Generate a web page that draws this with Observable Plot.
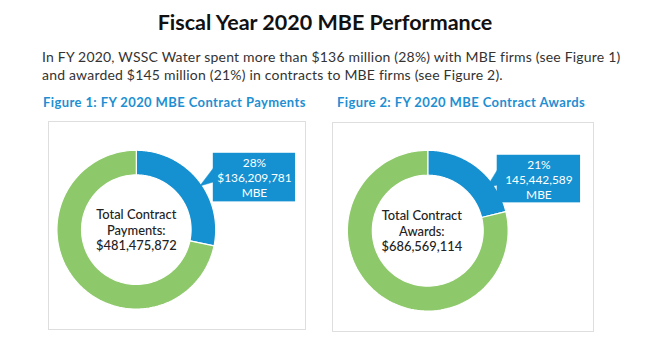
<!DOCTYPE html>
<html>
<head>
<meta charset="utf-8">
<script src="https://cdn.jsdelivr.net/npm/d3@7"></script>
<script src="https://cdn.jsdelivr.net/npm/@observablehq/plot@0.6"></script>
<style>
  html, body { margin: 0; padding: 0; background: #fff; }
  body { width: 650px; height: 363px; position: relative; overflow: hidden; font-family: Lato, "Open Sans", sans-serif; }
  #title { position: absolute; left: 0; width: 650px; top: 9px; text-align: center; font-weight: bold; font-size: 21.5px; color: #111; line-height: 26px; }
  #para { position: absolute; left: 42px; top: 48px; font-size: 14px; letter-spacing: 0.2px; line-height: 18px; color: #333; white-space: nowrap; }
  .ftitle { position: absolute; font-weight: bold; font-size: 13px; letter-spacing: 0.4px; color: #1e8fd2; white-space: nowrap; line-height: 16px; }
  .panel { position: absolute; box-sizing: border-box; border: 1px solid #dedede; background: #fff; }
  .panel svg { position: absolute; left: -1px; top: -1px; }
</style>
</head>
<body>
<div id="title"></div>
<div id="para"></div>
<div id="figs"></div>
<script>
// ---- data ----
const pageTitle = "Fiscal Year 2020 MBE Performance";
const paragraphLines = [
  "In FY 2020, WSSC Water spent more than $136 million (28%) with MBE firms (see Figure 1)",
  "and awarded $145 million (21%) in contracts to MBE firms (see Figure 2)."
];
const figureTitles = ["Figure 1: FY 2020 MBE Contract Payments", "Figure 2: FY 2020 MBE Contract Awards"];
const centerCaptions = ["Total Contract\nPayments:", "Total Contract\nAwards:"];
const totalAmounts = [481475872, 686569114];
const totalLabels = ["$481,475,872", "$686,569,114"];
const mbeAmounts = [136209781, 145442589];
const mbePercentLabels = ["28%", "21%"];
const mbeAmountLabels = ["$136,209,781", "145,442,589"];
const sliceNames = ["MBE", "Non-MBE"];

// ---- layout / style (not data) ----
const BLUE = "#1591d1", GREEN = "#8dc86a";
const layout = [
  {left: 48, top: 121, w: 258, h: 209, cx: 88.5, cy: 109, r: 80, textDx: 0, titleLeft: 43,
   callout: {x1: 0.97, x2: 2.006, y1: 0.35, y2: 0.962, base: [0.6, 0.775], baseX: 0.97, tip: [0.8, 0.55]}},
  {left: 332, top: 122, w: 262, h: 210, cx: 96, cy: 109, r: 81, textDx: -6, titleLeft: 337,
   callout: {x1: 0.864, x2: 1.901, y1: 0.346, y2: 0.938, base: [0.568, 0.753], baseX: 0.864, tip: [0.728, 0.53]}}
];
const innerRatio = 0.69;

document.getElementById("title").textContent = pageTitle;
const para = document.getElementById("para");
paragraphLines.forEach((l, i) => { if (i) para.appendChild(document.createElement("br")); para.appendChild(document.createTextNode(l)); });

function ringSlice(a0, a1, r0, r1, name) {
  const n = 120, pts = [];
  for (let k = 0; k <= n; k++) { const t = 2 * Math.PI * (a0 + (a1 - a0) * k / n); pts.push({slice: name, x: r1 * Math.sin(t), y: r1 * Math.cos(t)}); }
  for (let k = n; k >= 0; k--) { const t = 2 * Math.PI * (a0 + (a1 - a0) * k / n); pts.push({slice: name, x: r0 * Math.sin(t), y: r0 * Math.cos(t)}); }
  return pts;
}

const figs = document.getElementById("figs");
figureTitles.forEach((ft, i) => {
  const L = layout[i];
  const t = document.createElement("div");
  t.className = "ftitle"; t.textContent = ft;
  t.style.left = L.titleLeft + "px"; t.style.top = "94px";
  figs.appendChild(t);

  const share = mbeAmounts[i] / totalAmounts[i];
  const slices = [
    {name: sliceNames[0], a0: 0, a1: share, color: BLUE},
    {name: sliceNames[1], a0: share, a1: 1, color: GREEN}
  ];
  const c = L.callout;
  const calloutRect = [{x1: c.x1, x2: c.x2, y1: c.y1, y2: c.y2}];
  const pointer = [{x: c.baseX, y: c.base[1]}, {x: c.tip[0], y: c.tip[1]}, {x: c.baseX, y: c.base[0]}];
  const calloutText = [{x: (c.x1 + c.x2) / 2, y: (c.y1 + c.y2) / 2, label: mbePercentLabels[i] + "\n" + mbeAmountLabels[i] + "\n" + sliceNames[0]}];
  const centerText = [{x: 0, y: 0, label: centerCaptions[i] + "\n" + totalLabels[i]}];

  const marks = slices.map(s => Plot.line(ringSlice(s.a0, s.a1, innerRatio, 1, s.name), {
    x: "x", y: "y", fill: s.color, stroke: "#fff", strokeWidth: 1.2, curve: "linear-closed"
  }));
  marks.push(
    Plot.line(pointer, {x: "x", y: "y", fill: BLUE, stroke: BLUE, strokeWidth: 0.5, curve: "linear-closed"}),
    Plot.rect(calloutRect, {x1: "x1", x2: "x2", y1: "y1", y2: "y2", fill: BLUE}),
    Plot.text(calloutText, {x: "x", y: "y", text: "label", fill: "#fff", fontSize: 12, lineHeight: 1.25, fontFamily: "Lato"}),
    Plot.text(centerText, {x: "x", y: "y", dx: L.textDx, text: "label", fill: "#222", fontSize: 13, fontWeight: 500, lineHeight: 1.18, fontFamily: "Lato"})
  );

  const chart = Plot.plot({
    width: L.w, height: L.h, margin: 0,
    style: {background: "transparent", fontFamily: "Lato"},
    x: {type: "linear", domain: [-1, 1], range: [L.cx - L.r, L.cx + L.r], axis: null},
    y: {type: "linear", domain: [-1, 1], range: [L.cy + L.r, L.cy - L.r], axis: null},
    marks
  });
  const panel = document.createElement("div");
  panel.className = "panel";
  panel.style.left = L.left + "px"; panel.style.top = L.top + "px";
  panel.style.width = L.w + "px"; panel.style.height = L.h + "px";
  panel.appendChild(chart);
  figs.appendChild(panel);
});
</script>
</body>
</html>
